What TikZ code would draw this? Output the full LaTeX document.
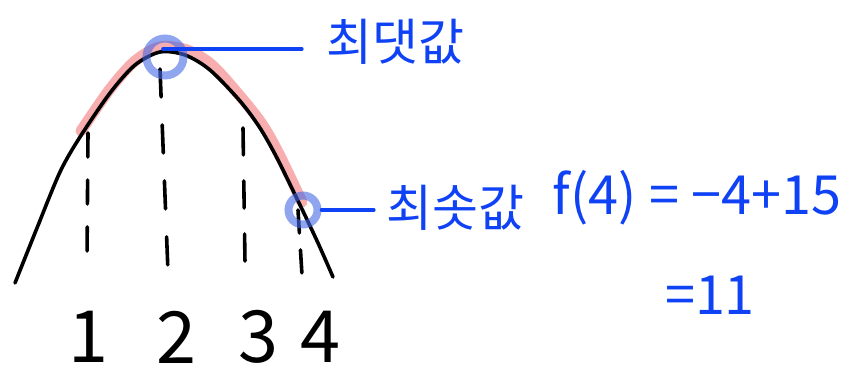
\documentclass[tikz,border=0pt]{standalone}
\usepackage{fontspec}
\newfontfamily\krfont{Noto Sans CJK KR}
\usetikzlibrary{calc}
\definecolor{penblue}{RGB}{15,65,245}
\definecolor{ringblue}{RGB}{70,105,230}
\definecolor{markpink}{RGB}{245,140,140}

\begin{document}
\begin{tikzpicture}[x=1pt, y=-1pt,
  pen/.style={line width=3.6pt, line cap=round, line join=round},
  dashln/.style={pen, black},
  ring/.style={circle, draw=ringblue, line width=8pt, draw opacity=0.6, inner sep=0pt},
  note/.style={font=\krfont\fontsize{50}{54}\selectfont, text=penblue, inner sep=0pt},
  calc/.style={font=\krfont\fontsize{54}{58}\selectfont, text=penblue, inner sep=0pt},
  digit/.style={font=\krfont\fontsize{72}{76}\selectfont, inner sep=0pt},
  link/.style={pen, penblue},
]
  \useasboundingbox (0,0) rectangle (867,372);

  \draw[line width=11pt, markpink, opacity=0.7, line cap=round, line join=round]
    plot[smooth] coordinates {(81,131) (110,89) (135,61) (160,47) (187,50) (212,65) (240,96) (262,124) (279,154) (302,202)};
  \draw[pen] plot[smooth] coordinates {(15,283) (37,228) (60,172) (80,137) (110,93) (135,65) (160,52) (185,55) (210,70) (240,101) (260,128) (277,158) (300,205) (318,243) (333,277)};

  \draw[dashln, dash pattern=on 24pt off 23pt] (88,133) -- (87,258);
  \draw[dashln, dash pattern=on 28pt off 28pt] (160,69) -- (168,272);
  \draw[dashln, dash pattern=on 27pt off 26pt] (243,128) -- (245,263);
  \draw[dashln, dash pattern=on 23pt off 17pt] (298,210) -- (302,275);

  \node[digit] (one) at (88,337) {1};
  \node[digit] (two) at (176,337) {2};
  \node[digit] (three) at (258,337) {3};
  \node[digit] (four) at (320,337) {4};

  \coordinate (maxtip) at (163,49);
  \node[ring, minimum size=37pt] (maxring) at (165,57) {};
  \node[ring, minimum size=29pt] (minring) at (303,210) {};

  \node[note] (maxlabel) at (395,42) {최댓값};
  \node[note] (minlabel) at (455,208) {최솟값};
  \node[calc] (fvalue) at (697,198) {f(4) = −4+15};
  \node[calc] (result) at (710,295) {=11};

  \draw[link, shorten >=24pt] (maxtip) -- (maxtip -| maxlabel.west);
  \draw[link, shorten >=12pt] (minring.east) -- (minring.east -| minlabel.west);
\end{tikzpicture}
\end{document}
